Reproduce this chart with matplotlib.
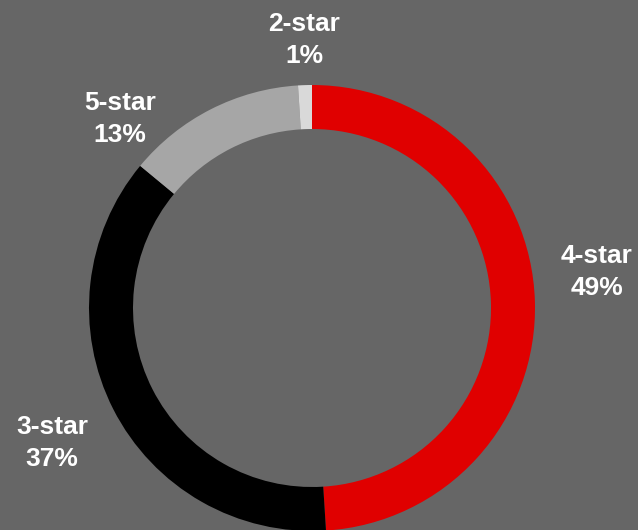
import matplotlib.pyplot as plt

# rating share, clockwise from 12 o'clock
labels = ["4-star", "3-star", "5-star", "2-star"]
shares = [49, 37, 13, 1]
colors = ["#e00000", "#000000", "#a6a6a6", "#d9d9d9"]

# label block centres in pixel space (x from left, y from top)
label_pos = [(597, 272), (52, 443), (120, 119), (304, 40)]

W, H = 638, 530
bg = "#666666"

fig = plt.figure(figsize=(W / 100, H / 100), dpi=100, facecolor=bg)
ax = fig.add_axes([0, 0, 1, 1])
ax.set_facecolor(bg)

cx, cy, r_out, r_in = 312, H - 308, 223, 179
ax.pie(shares, colors=colors, startangle=90, counterclock=False,
       center=(cx, cy), radius=r_out, frame=True,
       wedgeprops=dict(width=r_out - r_in, linewidth=0))
ax.set_xlim(0, W)
ax.set_ylim(0, H)
ax.set_aspect("equal")
ax.axis("off")

for name, val, (x, y) in zip(labels, shares, label_pos):
    ax.text(x, H - y, f"{name}\n{val}%", ha="center", va="center",
            color="white", fontsize=19, fontweight="bold",
            family="Liberation Sans", linespacing=1.37)

fig.savefig("out.png", dpi=100, facecolor=bg)
